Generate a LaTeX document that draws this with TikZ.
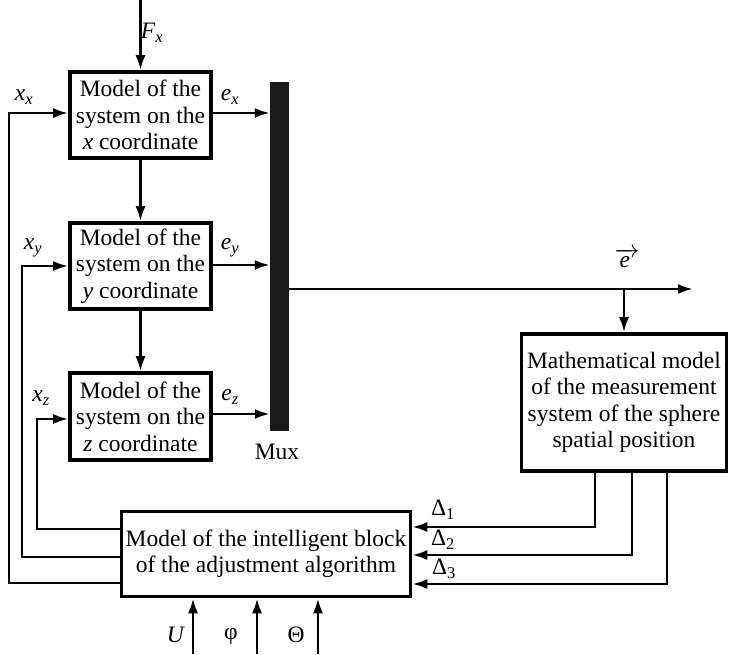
\documentclass[tikz,border=0pt]{standalone}
\usepackage{fontspec}
\setmainfont{Liberation Serif}
\usetikzlibrary{arrows.meta}
\newcommand\sbs[1]{\textsubscript{#1}}
\begin{document}
\begin{tikzpicture}[x=1pt,y=-1pt,
  font=\fontsize{23.5}{26.5}\selectfont,
  blk/.style={draw,line width=3.6pt,align=center,inner sep=0pt},
  arr/.style={line width=2.6pt,-{Latex[length=15pt,width=10pt]}},
  lbl/.style={inner sep=0pt}]
\useasboundingbox (0,0) rectangle (729,654);
% model blocks
\node[blk,minimum width=141pt,minimum height=86pt] (bx) at (140.5,115) {Model of the\\system on the\\\textit{x} coordinate};
\node[blk,minimum width=141pt,minimum height=86pt] (by) at (140.5,266) {Model of the\\system on the\\\textit{y} coordinate};
\node[blk,minimum width=141pt,minimum height=87pt] (bz) at (140.5,416.5) {Model of the\\system on the\\\textit{z} coordinate};
% mux
\node[fill=black!90,minimum width=19pt,minimum height=349pt,inner sep=0pt] (mux) at (279.5,256.5) {};
\node[lbl] (muxl) at (277,452) {Mux};
% measurement block
\node[blk,minimum width=205pt,minimum height=137pt] (mm) at (624,402.5) {Mathematical model\\of the measurement\\system of the sphere\\spatial position};
% intelligent block
\node[blk,minimum width=289pt,minimum height=85pt] (ib) at (266,554) {Model of the intelligent block\\of the adjustment algorithm};
% top input
\coordinate (fx) at (140.5,0);
\draw[arr] (fx) -- (bx.north);
\node[lbl] (fxl) at (152,33) {\textit{F}\sbs{\textit{x}}};
% between blocks
\draw[arr] (bx.south) -- (by.north);
\draw[arr] (by.south) -- (bz.north);
% to mux
\coordinate (ex) at (bx.east |- 0,113);
\draw[arr] (ex) -- (ex -| mux.west);
\coordinate (ey) at (by.east |- 0,265);
\draw[arr] (ey) -- (ey -| mux.west);
\coordinate (ez) at (bz.east |- 0,414);
\draw[arr] (ez) -- (ez -| mux.west);
\node[lbl] (exl) at (230,97) {\textit{e}\sbs{\textit{x}}};
\node[lbl] (eyl) at (230,248) {\textit{e}\sbs{\textit{y}}};
\node[lbl] (ezl) at (230,397) {\textit{e}\sbs{\textit{z}}};
% mux output
\coordinate (mo) at (mux.east |- 0,289);
\coordinate (eo) at (693,289);
\coordinate (br) at (mm.north |- 0,289);
\draw[arr] (mo) -- (eo);
\draw[arr] (br) -- (mm.north);
\node[lbl] (evec) at (627,258) {$\overrightarrow{\textit{e}\,}$};
% feedback to model blocks
\coordinate (f1a) at (ib.west |- 0,583);
\coordinate (f1b) at (9,583);
\coordinate (f1c) at (9,113);
\draw[arr] (f1a) -- (f1b) -- (f1c) -- (bx.west |- f1c);
\coordinate (f2a) at (ib.west |- 0,557);
\coordinate (f2b) at (22,557);
\coordinate (f2c) at (22,266);
\draw[arr] (f2a) -- (f2b) -- (f2c) -- (by.west |- f2c);
\coordinate (f3a) at (ib.west |- 0,529);
\coordinate (f3b) at (37,529);
\coordinate (f3c) at (37,419);
\draw[arr] (f3a) -- (f3b) -- (f3c) -- (bz.west |- f3c);
\node[lbl] (xxl) at (24,97) {\textit{x}\sbs{\textit{x}}};
\node[lbl] (xyl) at (33,248) {\textit{x}\sbs{\textit{y}}};
\node[lbl] (xzl) at (41,398) {\textit{x}\sbs{\textit{z}}};
% deltas
\coordinate (d1a) at (595,471);
\coordinate (d1b) at (595,527);
\draw[arr] (d1a) -- (d1b) -- (ib.east |- d1b);
\coordinate (d2a) at (632,471);
\coordinate (d2b) at (632,555);
\draw[arr] (d2a) -- (d2b) -- (ib.east |- d2b);
\coordinate (d3a) at (667,471);
\coordinate (d3b) at (667,584);
\draw[arr] (d3a) -- (d3b) -- (ib.east |- d3b);
\node[lbl] (dl1) at (443,510) {Δ\sbs{1}};
\node[lbl] (dl2) at (443,540) {Δ\sbs{2}};
\node[lbl] (dl3) at (444,569) {Δ\sbs{3}};
% bottom inputs
\coordinate (ua) at (193,654);
\draw[arr] (ua) -- (ua |- ib.south);
\coordinate (pa) at (257,654);
\draw[arr] (pa) -- (pa |- ib.south);
\coordinate (ta) at (318,654);
\draw[arr] (ta) -- (ta |- ib.south);
\node[lbl] (ul) at (176,635) {\textit{U}};
\node[lbl] (pl) at (231,636) {φ};
\node[lbl] (tl) at (296,635) {Θ};
\end{tikzpicture}
\end{document}
